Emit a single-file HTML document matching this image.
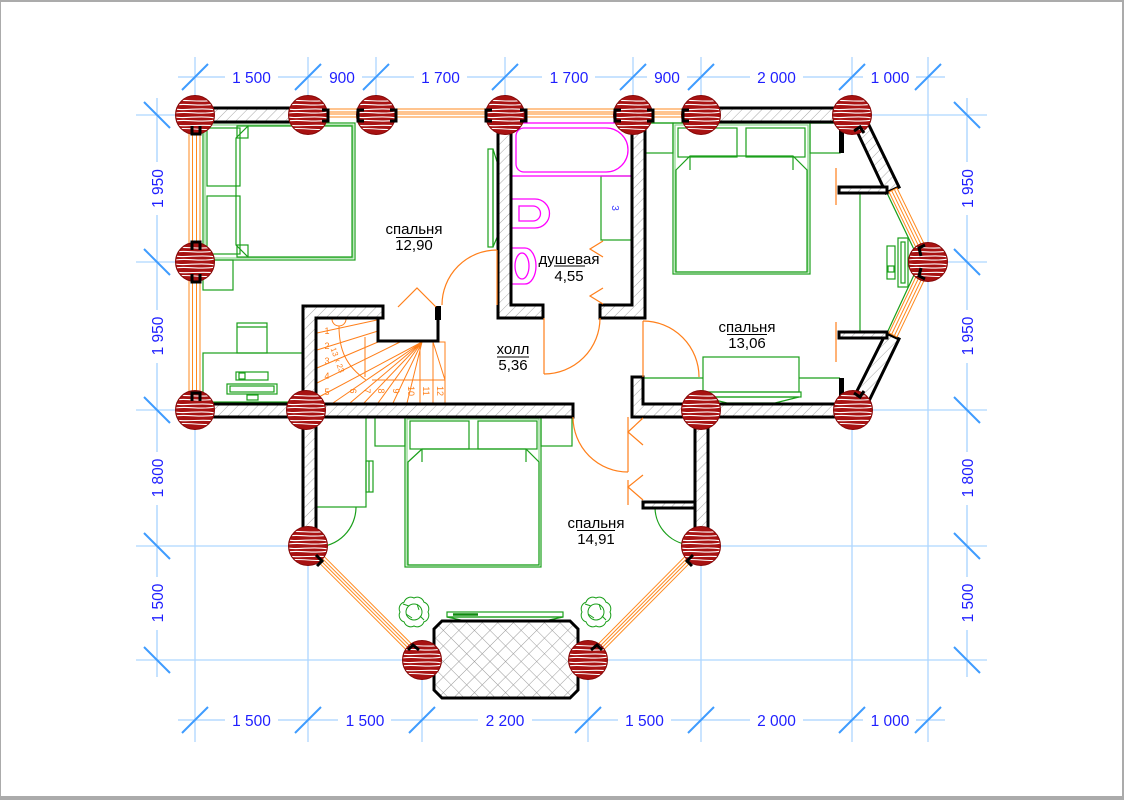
<!DOCTYPE html>
<html><head><meta charset="utf-8"><style>
html,body{margin:0;padding:0;background:#fff;}
svg{display:block;}
text{font-family:"Liberation Sans",sans-serif;}
</style></head><body>
<svg width="1124" height="800" viewBox="0 0 1124 800" xmlns="http://www.w3.org/2000/svg">
<defs>
 <pattern id="hatch" width="7" height="7" patternUnits="userSpaceOnUse" patternTransform="rotate(45)"><rect width="7" height="7" fill="#fff"/><line x1="0" y1="0" x2="0" y2="7" stroke="#a8a8a8" stroke-width="1"/></pattern>
 <pattern id="xh" width="11" height="11" patternUnits="userSpaceOnUse" patternTransform="rotate(45)"><rect width="11" height="11" fill="#fff"/><path d="M0,0V11M0,0H11" stroke="#9a9a9a" stroke-width="1"/></pattern>
 <clipPath id="cc"><circle cx="0" cy="0" r="19"/></clipPath>
 <g id="col">
  <circle r="19.5" fill="#a81212"/>
  <g clip-path="url(#cc)" fill="none" stroke="#fff" stroke-width="1.1">
   <path d="M-20,-14 C-10,-16 5,-12 20,-15"/>
   <path d="M-20,-10 C-8,-12 6,-8 20,-11"/>
   <path d="M-20,-6 C-10,-4 8,-8 20,-5"/>
   <path d="M-20,-2 C-6,-4 6,0 20,-3"/>
   <path d="M-20,2 C-10,4 6,0 20,3"/>
   <path d="M-20,6 C-8,4 8,8 20,5"/>
   <path d="M-20,10 C-10,12 8,9 20,11"/>
   <path d="M-20,14 C-8,12 8,16 20,14"/>
  </g>
  <circle r="19.5" fill="none" stroke="#850808" stroke-width="1"/>
 </g>
 <g id="plant" fill="none" stroke="#1a9f1a" stroke-width="1">
  <path d="M14,0 A7,7 0 0 0 9.9,-9.9 A7,7 0 0 0 0,-14 A7,7 0 0 0 -9.9,-9.9 A7,7 0 0 0 -14,0 A7,7 0 0 0 -9.9,9.9 A7,7 0 0 0 0,14 A7,7 0 0 0 9.9,9.9 A7,7 0 0 0 14,0Z"/>
  <circle r="8"/>
  <path d="M-8,2 L-2,6 M3,-8 L5,-2 M6,4 L10,8 M-5,-6 L-11,-8"/>
 </g>
</defs>

<!-- frame -->
<rect x="0" y="0" width="1124" height="800" fill="#ababab"/>
<rect x="1" y="2" width="1121" height="794" fill="#fff"/>

<!-- grid lines -->
<g stroke="#aed6ff" stroke-width="1.3">
 <line x1="195" y1="57" x2="195" y2="742"/>
 <line x1="308" y1="57" x2="308" y2="742"/>
 <line x1="376" y1="57" x2="376" y2="100"/>
 <line x1="505" y1="57" x2="505" y2="100"/>
 <line x1="633" y1="57" x2="633" y2="100"/>
 <line x1="701" y1="57" x2="701" y2="742"/>
 <line x1="852" y1="57" x2="852" y2="742"/>
 <line x1="928" y1="57" x2="928" y2="742"/>
 <line x1="422" y1="640" x2="422" y2="742"/>
 <line x1="588" y1="640" x2="588" y2="742"/>
 <line x1="136" y1="115" x2="987" y2="115"/>
 <line x1="136" y1="262" x2="987" y2="262"/>
 <line x1="136" y1="410" x2="987" y2="410"/>
 <line x1="136" y1="546" x2="987" y2="546"/>
 <line x1="136" y1="660" x2="987" y2="660"/>
</g>

<!-- building fill -->
<polygon points="188,107 852,107 866,118 899,187 933,262 899,337 867,405 852,418 710,418 710,546 588,660 422,660 303,546 303,418 188,418" fill="#fff"/>

<!-- dimension lines -->
<g stroke="#a6d2ff" stroke-width="1.3">
 <line x1="178" y1="77" x2="945" y2="77"/>
 <line x1="178" y1="720" x2="945" y2="720"/>
 <line x1="157" y1="98" x2="157" y2="677"/>
 <line x1="967" y1="98" x2="967" y2="677"/>
</g>
<g fill="#fff">
 <rect x="225" y="69" width="53" height="16"/><rect x="322" y="69" width="40" height="16"/>
 <rect x="414" y="69" width="53" height="16"/><rect x="542" y="69" width="53" height="16"/>
 <rect x="647" y="69" width="40" height="16"/><rect x="750" y="69" width="53" height="16"/>
 <rect x="863" y="69" width="53" height="16"/>
 <rect x="225" y="712" width="53" height="16"/><rect x="338" y="712" width="53" height="16"/>
 <rect x="478" y="712" width="54" height="16"/><rect x="618" y="712" width="53" height="16"/>
 <rect x="750" y="712" width="53" height="16"/><rect x="863" y="712" width="53" height="16"/>
 <rect x="149" y="162" width="16" height="53"/><rect x="149" y="310" width="16" height="53"/>
 <rect x="149" y="452" width="16" height="53"/><rect x="149" y="577" width="16" height="53"/>
 <rect x="959" y="162" width="16" height="53"/><rect x="959" y="310" width="16" height="53"/>
 <rect x="959" y="452" width="16" height="53"/><rect x="959" y="577" width="16" height="53"/>
</g>
<g stroke="#3f9cff" stroke-width="2">
 <path d="M182,90 L208,64 M295,90 L321,64 M363,90 L389,64 M492,90 L518,64 M620,90 L646,64 M688,90 L714,64 M839,90 L865,64 M915,90 L941,64"/>
 <path d="M182,733 L208,707 M295,733 L321,707 M409,733 L435,707 M575,733 L601,707 M688,733 L714,707 M839,733 L865,707 M915,733 L941,707"/>
 <path d="M144,102 L170,128 M144,249 L170,275 M144,397 L170,423 M144,533 L170,559 M144,647 L170,673"/>
 <path d="M954,102 L980,128 M954,249 L980,275 M954,397 L980,423 M954,533 L980,559 M954,647 L980,673"/>
</g>
<g fill="#1f1fff" font-size="15.5" text-anchor="middle">
 <text x="251.5" y="83">1 500</text><text x="342" y="83">900</text>
 <text x="440.5" y="83">1 700</text><text x="569" y="83">1 700</text>
 <text x="667" y="83">900</text><text x="776.5" y="83">2 000</text>
 <text x="890" y="83">1 000</text>
 <text x="251.5" y="726">1 500</text><text x="365" y="726">1 500</text>
 <text x="505" y="726">2 200</text><text x="644.5" y="726">1 500</text>
 <text x="776.5" y="726">2 000</text><text x="890" y="726">1 000</text>
 <text transform="translate(163,188.5) rotate(-90)">1 950</text>
 <text transform="translate(163,336) rotate(-90)">1 950</text>
 <text transform="translate(163,478) rotate(-90)">1 800</text>
 <text transform="translate(163,603) rotate(-90)">1 500</text>
 <text transform="translate(973,188.5) rotate(-90)">1 950</text>
 <text transform="translate(973,336) rotate(-90)">1 950</text>
 <text transform="translate(973,478) rotate(-90)">1 800</text>
 <text transform="translate(973,603) rotate(-90)">1 500</text>
</g>

<!-- green furniture -->
<g fill="none" stroke="#1a9f1a" stroke-width="1.2">
 <rect x="203" y="123" width="152" height="137"/>
 <rect x="205" y="125" width="148" height="133" stroke="#8ad68a"/>
 <rect x="207" y="128" width="33" height="58"/>
 <rect x="207" y="196" width="33" height="58"/>
 <polygon points="248,126 352,126 352,257 248,257 236,245 236,138"/>
 <rect x="237" y="126" width="11" height="12"/>
 <rect x="237" y="245" width="11" height="12"/>
 <rect x="203" y="260" width="30" height="30"/>
 <rect x="237" y="323" width="30" height="30"/>
 <line x1="237" y1="327" x2="267" y2="327"/>
 <rect x="203" y="353" width="100" height="49"/>
 <rect x="236" y="372" width="32" height="8"/>
 <rect x="239" y="373" width="6" height="6"/>
 <rect x="227" y="384" width="50" height="10"/>
 <rect x="230" y="386" width="44" height="6"/>
 <rect x="247" y="395" width="11" height="5"/>
 <rect x="488" y="149" width="5" height="98"/>
 <polygon points="493,149 498,165 498,235 493,247"/>
 <rect x="601" y="176" width="31" height="64"/>
 <line x1="643" y1="123" x2="840" y2="123"/>
 <rect x="643" y="123" width="30" height="30"/>
 <rect x="810" y="123" width="30" height="30"/>
 <rect x="673" y="123" width="137" height="151"/>
 <rect x="675" y="125" width="133" height="147" stroke="#8ad68a"/>
 <rect x="678" y="128" width="59" height="29"/>
 <rect x="746" y="128" width="59" height="29"/>
 <polygon points="676,170 690,156 793,156 807,170 807,272 676,272"/>
 <line x1="690" y1="156" x2="690" y2="170"/><line x1="793" y1="156" x2="793" y2="170"/>
 <line x1="860" y1="193" x2="860" y2="333"/>
 <polyline points="887,193 920,262 887,333"/>
 <rect x="898" y="238" width="10" height="49"/>
 <rect x="901" y="242" width="4" height="41"/>
 <rect x="887" y="246" width="8" height="33"/>
 <rect x="888" y="266" width="6" height="6"/>
 <rect x="908" y="258" width="5" height="8"/>
 <rect x="703" y="357" width="96" height="35"/>
 <rect x="701" y="392" width="100" height="5"/>
 <polygon points="703,397 799,397 775,403 727,403"/>
 <line x1="643" y1="378" x2="703" y2="378"/>
 <line x1="799" y1="378" x2="840" y2="378"/>
 <rect x="316" y="417" width="50" height="90"/>
 <rect x="366" y="461" width="7" height="31"/>
 <line x1="369" y1="461" x2="369" y2="492"/>
 <rect x="375" y="417" width="30" height="29"/>
 <rect x="541" y="417" width="31" height="29"/>
 <rect x="405" y="417" width="136" height="150"/>
 <rect x="407" y="419" width="132" height="146" stroke="#8ad68a"/>
 <rect x="410" y="421" width="59" height="28"/>
 <rect x="478" y="421" width="59" height="28"/>
 <polygon points="408,462 422,449 526,449 539,462 539,565 408,565"/>
 <line x1="422" y1="449" x2="422" y2="462"/><line x1="526" y1="449" x2="526" y2="462"/>
 <path d="M356,507 A40,40 0 0 1 316,547"/>
 <path d="M655,507 A38,38 0 0 0 693,545"/>
 <rect x="447" y="612" width="116" height="5"/>
 <polygon points="447,617 563,617 540,622 470,622"/>
</g>
<path d="M453,614.5 H478" stroke="#0f8a0f" stroke-width="2.5"/>
<use href="#plant" x="414" y="612"/>
<use href="#plant" x="596" y="612"/>
<text transform="translate(612,208) rotate(90)" font-size="10" fill="#3a3aff" text-anchor="middle">3</text>

<!-- bathroom fixtures -->
<g fill="none" stroke="#ff00ff" stroke-width="1.3">
 <rect x="511" y="123" width="121" height="53"/>
 <path d="M524,128 H606 A22,22 0 0 1 606,172 H524 A8,8 0 0 1 516,164 V136 A8,8 0 0 1 524,128 Z"/>
 <path d="M511,199 H535 A14.5,14.5 0 0 1 535,228 H511 Z"/>
 <path d="M519,206 H533 A7.5,7.5 0 0 1 533,221 H519 Z"/>
 <path d="M511,248 H525 A11,18 0 0 1 525,284 H511 Z"/>
 <path d="M522,253 A7,13 0 0 1 522,279 A7,13 0 0 1 522,253 Z"/>
</g>

<!-- stairs -->
<g stroke="#ff7f1a" stroke-width="1" fill="none">
 <path d="M317,319 H378 V342 H445 V403 H317 Z" fill="#fff"/>
 <path d="M317,333 L377,320 M317,350 L378,331 M317,368 L378,342 M317,383 L400,342 M317,398 L422,342"/>
 <path d="M333,403 L422,342 M350,403 L422,342 M364,403 L422,342 M378,403 L422,342 M393,403 L422,342 M407,403 L422,342"/>
 <path d="M420,342 V403 M433,342 V403 M433,342 L445,380 M372,380 H445"/>
 <path d="M339,326 C339,350 346,366 366,380"/>
 <line x1="365" y1="337" x2="365" y2="377"/>
 <circle cx="339" cy="319" r="7" fill="#fff"/>
</g>
<g fill="#ff7f1a" font-size="9" text-anchor="middle">
 <text x="327" y="334">1</text><text x="327" y="349">2</text><text x="327" y="364">3</text>
 <text x="327" y="379">4</text><text x="327" y="395">5</text>
 <text transform="translate(350,391) rotate(90)">6</text>
 <text transform="translate(364,391) rotate(90)">7</text>
 <text transform="translate(378,391) rotate(90)">8</text>
 <text transform="translate(393,391) rotate(90)">9</text>
 <text transform="translate(408,391) rotate(90)">10</text>
 <text transform="translate(423,391) rotate(90)">11</text>
 <text transform="translate(437,391) rotate(90)">12</text>
 <text transform="translate(335,361) rotate(70)" font-size="8">13 x 23</text>
</g>

<!-- walls -->
<g fill="url(#hatch)" stroke="#000" stroke-width="3" stroke-linejoin="miter">
 <rect x="195" y="108" width="113" height="14"/>
 <rect x="701" y="108" width="151" height="14"/>
 <rect x="195" y="404" width="378" height="13"/>
 <path d="M632,377 H643 V404 H852 V417 H632 Z"/>
 <path d="M303,306 H383 V318 H316 V404 H303 Z"/>
 <path d="M498,122 H511 V305 H543 V318 H498 Z"/>
 <path d="M632,122 H645 V318 H600 V305 H632 Z"/>
 <rect x="303" y="417" width="13" height="113"/>
 <rect x="695" y="417" width="13" height="113"/>
 <rect x="643" y="502" width="52" height="6"/>
 <polygon points="866,119 899,187 886,193 854,125"/>
 <polygon points="886,333 899,339 867,405 853,399"/>
 <rect x="839" y="187" width="48" height="6"/>
 <rect x="839" y="332" width="48" height="6"/>
 <polygon points="442,621 570,621 578,629 578,690 570,698 442,698 434,690 434,629" fill="url(#xh)"/>
</g>
<path d="M378,319 V341 H438 V306" fill="none" stroke="#000" stroke-width="3"/>
<rect x="435" y="306" width="6" height="14" fill="#000"/>
<rect x="839" y="122" width="5" height="31" fill="#000"/>
<rect x="839" y="378" width="5" height="26" fill="#000"/>

<!-- windows -->
<g stroke="#ff8a1f" stroke-width="1" fill="none">
 <rect x="308" y="109" width="393" height="8" fill="#fff"/>
 <path d="M308,112 H701 M308,114 H701"/>
 <rect x="189" y="115" width="11" height="295" fill="#fff"/>
 <path d="M192.5,115 V410 M196.5,115 V410"/>
 <polygon points="889,192 924,264 932,260 897,188" fill="#fff"/>
 <path d="M891.7,190.7 L926.7,262.7 M894.3,189.3 L929.3,261.3"/>
 <polygon points="924,260 889,333 897,337 932,264" fill="#fff"/>
 <path d="M926.6,261.4 L891.6,334.4 M929.4,262.6 L894.4,335.6"/>
 <polygon points="305.2,548.8 419.2,662.8 424.8,657.2 310.8,543.2" fill="#fff"/>
 <path d="M307.1,546.9 L421.1,660.9 M308.9,545.1 L422.9,659.1"/>
 <polygon points="698.2,543.2 585.2,657.2 590.8,662.8 703.8,548.8" fill="#fff"/>
 <path d="M700.1,545.1 L587.1,659.1 M701.9,546.9 L588.9,660.9"/>
</g>

<!-- doors -->
<g stroke="#ff7f1a" stroke-width="1.2" fill="none">
 <path d="M497,250 A55,55 0 0 0 442,305"/>
 <line x1="497" y1="250" x2="497" y2="305"/>
 <path d="M544,374 A56,56 0 0 0 600,318"/>
 <line x1="544" y1="318" x2="544" y2="374"/>
 <path d="M643,321 A56,56 0 0 1 699,377"/>
 <line x1="643" y1="321" x2="643" y2="377"/>
 <path d="M628,472 A55,55 0 0 1 573,417"/>
 <line x1="628" y1="417" x2="628" y2="472"/>
 <line x1="628" y1="480" x2="628" y2="505"/>
 <path d="M643,418 L628,432 L643,445"/>
 <path d="M643,475 L628,487 L643,500"/>
 <path d="M603,241 L590,249 L603,257"/>
 <path d="M603,288 L590,296 L603,304"/>
 <path d="M398,307 L417,288 L436,307"/>
 <line x1="836" y1="168" x2="836" y2="205"/>
 <line x1="836" y1="322" x2="836" y2="362"/>
</g>

<!-- columns -->
<use href="#col" x="195" y="115"/><use href="#col" x="308" y="115"/>
<use href="#col" x="376" y="115"/><use href="#col" x="505" y="115"/>
<use href="#col" x="633" y="115"/><use href="#col" x="701" y="115"/>
<use href="#col" x="852" y="115"/>
<use href="#col" x="195" y="262"/><use href="#col" x="928" y="262"/>
<use href="#col" x="195" y="410"/><use href="#col" x="306" y="410"/>
<use href="#col" x="701" y="410"/><use href="#col" x="853" y="410"/>
<use href="#col" x="308" y="546"/><use href="#col" x="701" y="546"/>
<use href="#col" x="422" y="660"/><use href="#col" x="588" y="660"/>

<!-- brackets -->
<g stroke="#000" stroke-width="3" fill="none">
 <path d="M322,110 H328 V121 H322"/>
 <path d="M364,110 H358 V121 H364"/><path d="M390,110 H396 V121 H390"/>
 <path d="M492,110 H486 V121 H492"/><path d="M520,110 H526 V121 H520"/>
 <path d="M621,110 H615 V121 H621"/><path d="M647,110 H653 V121 H647"/>
 <path d="M689,110 H683 V121 H689"/>
 <path d="M192,126 V134 H200 V126"/><path d="M192,250 V242 H200 V250"/>
 <path d="M192,274 V282 H200 V274"/><path d="M192,401 V393 H200 V401"/>
 <path d="M925,245 L919,248 L921,256"/><path d="M925,279 L919,276 L921,268"/>
 <path d="M316,555 L322,561 L317,566"/><path d="M408,650 L413,645 L419,650"/>
 <path d="M693,555 L687,561 L692,566"/><path d="M602,650 L597,645 L591,650"/>
 <path d="M854,131 L860,127 L864,133"/><path d="M854,393 L860,397 L864,391"/>
</g>

<!-- room labels -->
<g fill="#000" font-size="15" text-anchor="middle">
 <text x="414" y="234">спальня</text><text x="414" y="250">12,90</text>
 <text x="569" y="264">душевая</text><text x="569" y="281">4,55</text>
 <text x="513" y="354">холл</text><text x="513" y="370">5,36</text>
 <text x="747" y="332">спальня</text><text x="747" y="348">13,06</text>
 <text x="596" y="528">спальня</text><text x="596" y="544">14,91</text>
</g>
<g stroke="#000" stroke-width="1">
 <line x1="396" y1="237.5" x2="433" y2="237.5"/>
 <line x1="554" y1="266" x2="585" y2="266"/>
 <line x1="497" y1="357" x2="529" y2="357"/>
 <line x1="727" y1="334.5" x2="767" y2="334.5"/>
 <line x1="577" y1="530.5" x2="615" y2="530.5"/>
</g>
</svg>
</body></html>
